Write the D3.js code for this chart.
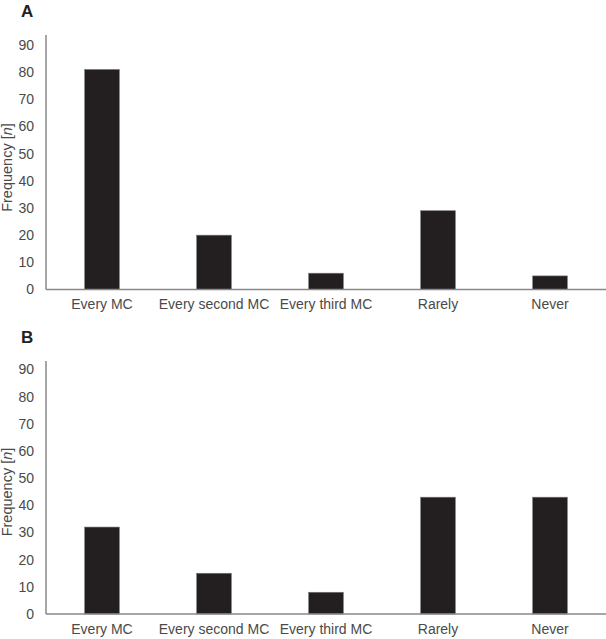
<!DOCTYPE html>
<html>
<head>
<meta charset="utf-8">
<script src="https://cdn.jsdelivr.net/npm/d3@7"></script>
<style>
  body { margin: 0; background: #fff; }
  text { font-family: "Liberation Sans", Arial, sans-serif; }
</style>
</head>
<body>
<div id="graph"></div>
<script>
const w = 606;
const h = 639;

const categories = ['Every MC', 'Every second MC', 'Every third MC', 'Rarely', 'Never'];
const valuesA = [81, 20, 6, 29, 5];
const valuesB = [32, 15, 8, 43, 43];
const yTicks = [0, 10, 20, 30, 40, 50, 60, 70, 80, 90];

const svg = d3.select('#graph')
              .append('svg')
              .attr('width', w)
              .attr('height', h);

function panel(label, values, top, base) {
  // base = pixel y of zero line, top = pixel y of axis top
  const xScale = d3.scaleBand()
                   .domain(categories)
                   .range([46, 606])
                   .paddingInner(0.69)
                   .paddingOuter(0.345);

  const yScale = d3.scaleLinear()
                   .domain([0, 90])
                   .range([base, base - 244.5]);

  svg.append('text')
     .attr('x', 21)
     .attr('y', top - 18)
     .style('font-size', '17px')
     .style('font-weight', 'bold')
     .style('fill', '#222')
     .text(label);

  svg.selectAll('.bar' + label)
     .data(values)
     .enter()
     .append('rect')
     .attr('x', (d, i) => xScale(categories[i]))
     .attr('y', (d) => yScale(d))
     .attr('width', xScale.bandwidth())
     .attr('height', (d) => base - yScale(d))
     .attr('fill', '#231f20')
     .attr('stroke', '#777')
     .attr('stroke-width', 0.6);

  // y axis: labels only, plain line
  const yAxis = svg.append('g')
     .attr('transform', 'translate(46,0)')
     .call(d3.axisLeft(yScale).tickValues(yTicks).tickSize(0).tickPadding(12));
  yAxis.select('.domain').remove();
  yAxis.selectAll('text')
       .style('font-size', '14px')
       .style('font-family', '"Liberation Sans", Arial, sans-serif')
       .style('fill', '#4a4a4a');

  svg.append('line')
     .attr('x1', 46).attr('x2', 46)
     .attr('y1', top).attr('y2', base)
     .attr('stroke', '#888')
     .attr('stroke-width', 1.5);

  const xAxis = svg.append('g')
     .attr('transform', 'translate(0,' + base + ')')
     .call(d3.axisBottom(xScale).tickSize(0).tickPadding(10));
  xAxis.select('.domain').remove();
  xAxis.selectAll('text')
       .style('font-size', '14px')
       .style('font-family', '"Liberation Sans", Arial, sans-serif')
       .style('fill', '#4a4a4a');

  svg.append('line')
     .attr('x1', 46).attr('x2', 606)
     .attr('y1', base).attr('y2', base)
     .attr('stroke', '#888')
     .attr('stroke-width', 1.5);

  const title = svg.append('text')
     .attr('text-anchor', 'middle')
     .attr('transform', 'translate(12,' + (base - 122) + ')rotate(-90)')
     .style('font-size', '14.5px')
     .style('fill', '#4a4a4a');
  title.append('tspan').text('Frequency [');
  title.append('tspan').style('font-style', 'italic').text('n');
  title.append('tspan').text(']');
}

panel('A', valuesA, 35, 289.5);
panel('B', valuesB, 361, 614);
</script>
</body>
</html>
